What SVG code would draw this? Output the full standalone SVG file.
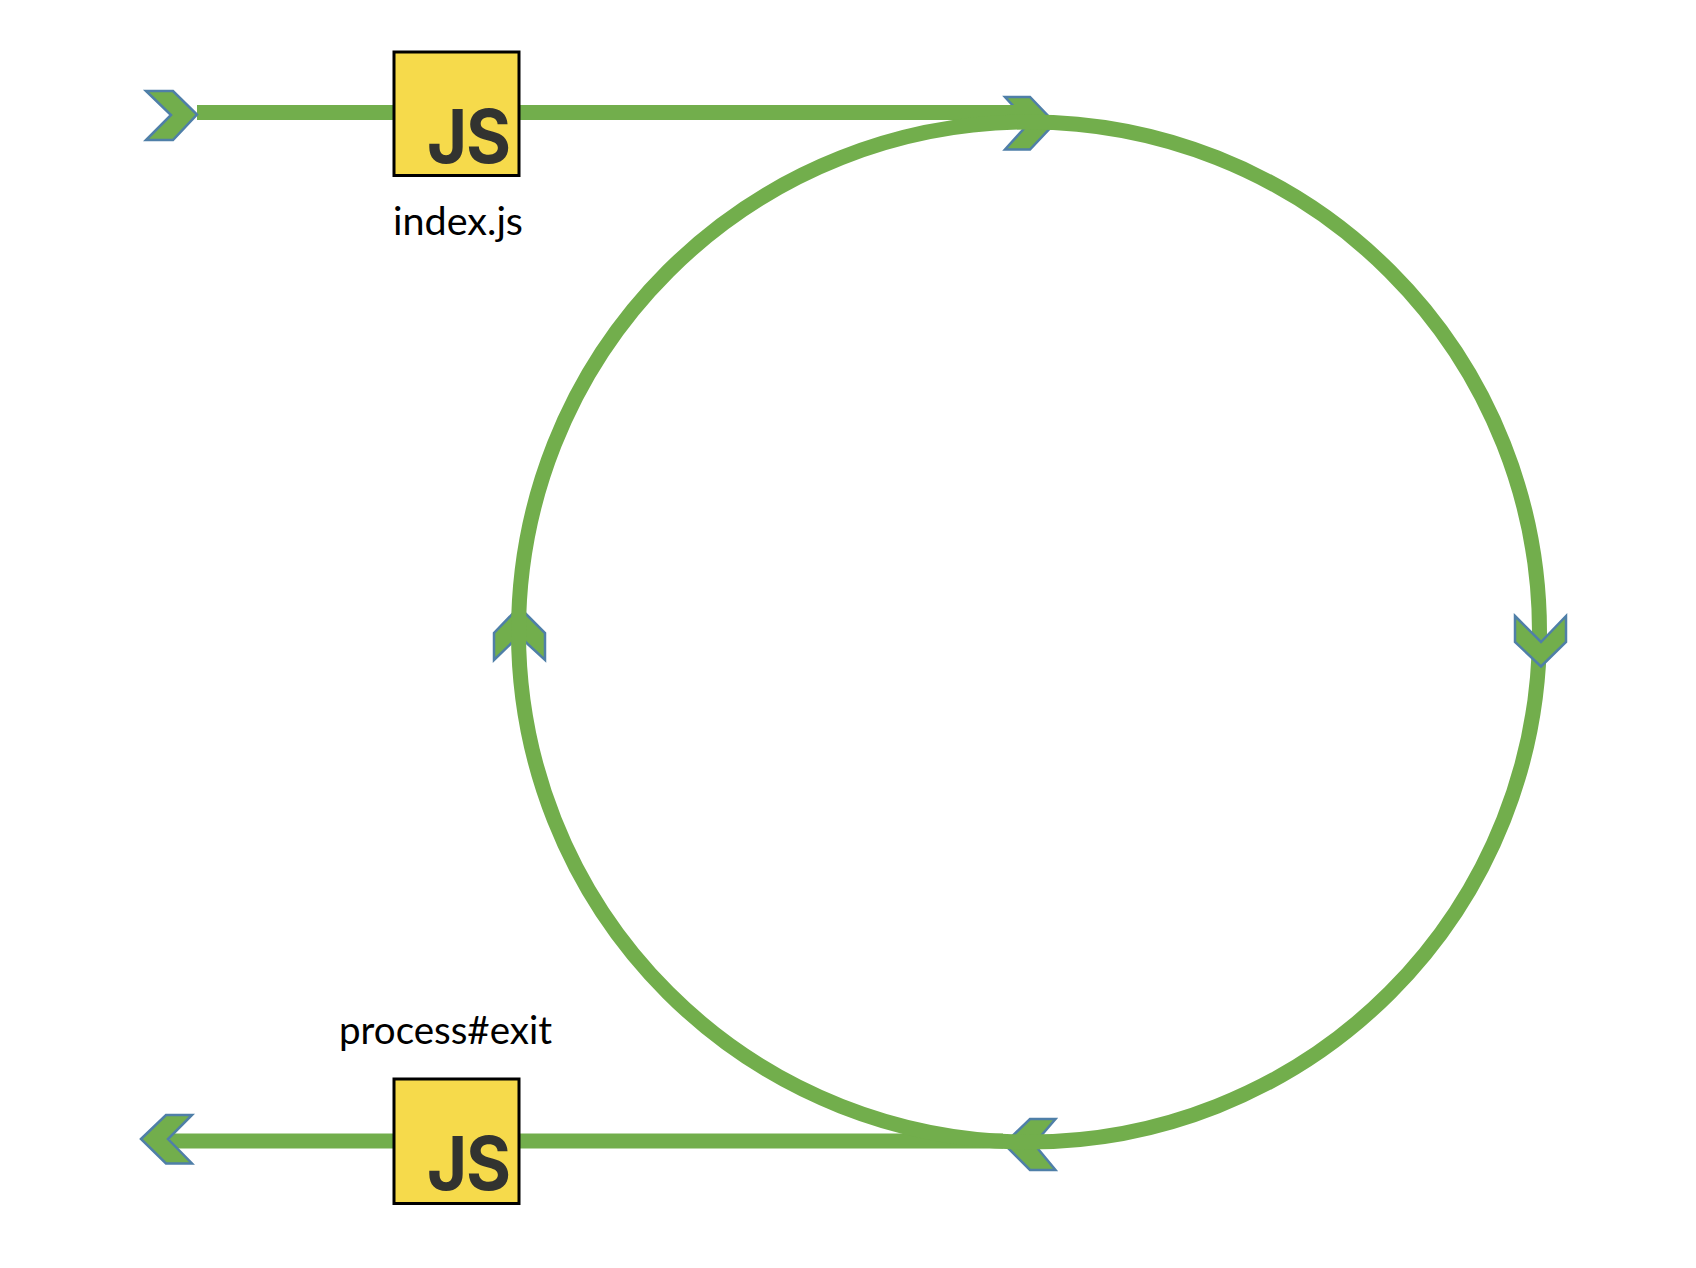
<svg xmlns="http://www.w3.org/2000/svg" width="1696" height="1268" viewBox="0 0 1696 1268">
<style>
.wire{fill:none;stroke:#72AE4C;stroke-width:15}
.head{fill:#72AE4C;stroke:#4F7FA8;stroke-width:2.5;stroke-linejoin:miter}
.box{fill:#F6DA4B;stroke:#000;stroke-width:3}
.js{font-family:"Inter","Lato",sans-serif;font-weight:700;font-size:74px;fill:#323330}
.label{font-family:"Lato","Open Sans",sans-serif;font-size:38px;fill:#000}
</style>
<rect width="1696" height="1268" fill="#fff"/>
<g id="connectors">
<polygon class="head" points="1005,97 1030,97 1055,123 1030,149.500 1005,149.500 1029,123"/>
<polygon class="head" points="1055.500,1119 1030,1119 1004,1144 1030,1170 1055.500,1170 1034,1144"/>
<polygon class="head" points="519,607 545,633 545,660 519,636 494,660 494,633"/>
<line class="wire" x1="197" y1="112.500" x2="393" y2="112.500"/>
<line class="wire" x1="519" y1="112.500" x2="1030" y2="112.500"/>
<line class="wire" x1="170" y1="1141" x2="393" y2="1141"/>
<line class="wire" x1="519" y1="1141" x2="1003" y2="1141"/>
<ellipse class="wire" cx="1029" cy="632" rx="510.500" ry="510"/>
<polygon class="head" points="146,91 173,91 197,114.500 173,140 146,140 171,115"/>
<polygon class="head" points="141,1139 166,1115 192,1115 168,1139 192,1163.500 166,1163.500"/>
<polygon class="head" points="1515,616 1541,642 1566,616 1566,642 1541,666.500 1515,642"/>
</g>
<g id="index-js">
<rect class="box" x="394" y="52" width="125" height="123.500"/>
<text class="js" x="0 42" y="0" transform="translate(427 163) scale(.93 1)">JS</text>
<text class="label" x="393" y="235" textLength="130" lengthAdjust="spacingAndGlyphs">index.js</text>
</g>
<g id="process-exit">
<rect class="box" x="394" y="1079" width="125" height="124.500"/>
<text class="js" x="0 42" y="0" transform="translate(427 1190) scale(.93 1)">JS</text>
<text class="label" x="339" y="1044" textLength="213" lengthAdjust="spacingAndGlyphs">process#exit</text>
</g>
</svg>
